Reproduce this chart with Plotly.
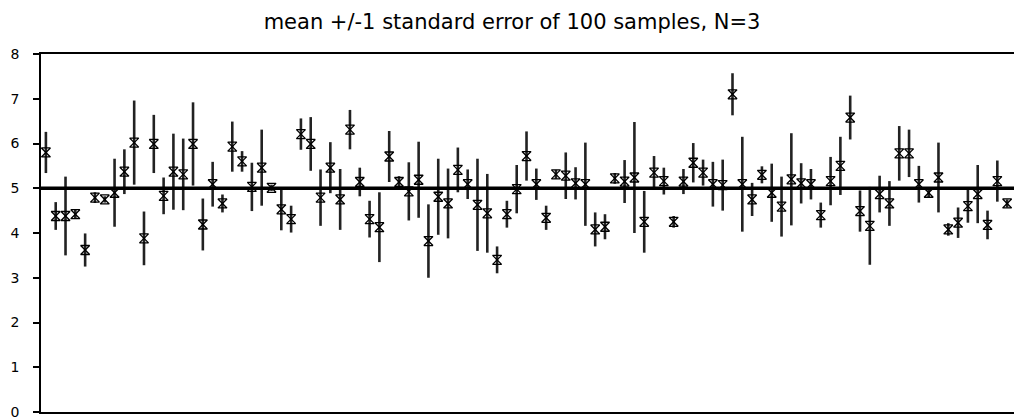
import plotly.graph_objects as go

# sample number 1..100 and the mean / standard error
samples = list(range(1, 101))
means = [5.80, 4.38, 4.38, 4.42, 3.62, 4.79, 4.75, 4.90, 5.37, 6.02,
         3.88, 5.99, 4.83, 5.37, 5.31, 5.99, 4.19, 5.09, 4.66, 5.93,
         5.60, 5.03, 5.46, 5.01, 4.53, 4.31, 6.21, 5.99, 4.79, 5.46,
         4.75, 6.31, 5.14, 4.31, 4.13, 5.71, 5.14, 4.93, 5.19, 3.82,
         4.81, 4.66, 5.41, 5.09, 4.63, 4.44, 3.40, 4.42, 4.98, 5.72,
         5.09, 4.34, 5.31, 5.28, 5.11, 5.09, 4.08, 4.14, 5.22, 5.15,
         5.24, 4.25, 5.35, 5.16, 4.25, 5.15, 5.57, 5.35, 5.09, 5.07,
         7.10, 5.09, 4.75, 5.30, 4.90, 4.59, 5.20, 5.11, 5.09, 4.40,
         5.16, 5.50, 6.58, 4.49, 4.16, 4.87, 4.66, 5.78, 5.78, 5.09,
         4.90, 5.24, 4.08, 4.23, 4.60, 4.87, 4.18, 5.16, 4.66, 4.90]
se = [0.46, 0.31, 0.88, 0.10, 0.37, 0.12, 0.07, 0.76, 0.50, 0.94,
      0.60, 0.65, 0.41, 0.85, 0.80, 0.93, 0.58, 0.50, 0.20, 0.56,
      0.23, 0.54, 0.85, 0.07, 0.47, 0.30, 0.35, 0.60, 0.63, 0.57,
      0.68, 0.44, 0.32, 0.41, 0.78, 0.57, 0.13, 0.65, 0.85, 0.82,
      0.85, 0.78, 0.50, 0.33, 1.03, 0.88, 0.30, 0.30, 0.54, 0.55,
      0.35, 0.27, 0.10, 0.52, 0.36, 0.93, 0.38, 0.28, 0.12, 0.48,
      1.24, 0.69, 0.37, 0.30, 0.13, 0.28, 0.44, 0.29, 0.50, 0.57,
      0.47, 1.06, 0.37, 0.19, 0.65, 0.67, 1.03, 0.45, 0.34, 0.28,
      0.54, 0.65, 0.49, 0.46, 0.87, 0.41, 0.50, 0.61, 0.53, 0.41,
      0.10, 0.78, 0.14, 0.34, 0.37, 0.65, 0.32, 0.46, 0.09, 0.30]
true_mean = 5

fig = go.Figure()
fig.add_trace(go.Scatter(
    x=samples, y=means, mode="markers",
    marker=dict(symbol="hourglass-open", size=9, color="black",
                line=dict(width=1.3, color="black")),
    error_y=dict(type="data", array=se, visible=True,
                 color="#222222", thickness=2.6, width=0),
    cliponaxis=False, showlegend=False,
))

fig.add_shape(type="line", xref="paper", x0=0, x1=1, y0=true_mean, y1=true_mean,
              line=dict(color="black", width=3.5))

fig.update_layout(
    width=1014, height=420,
    margin=dict(l=41, r=0, t=54, b=8, autoexpand=False),
    plot_bgcolor="white", paper_bgcolor="white",
    font=dict(family="DejaVu Sans", size=14, color="black"),
    title=dict(text="mean +/-1 standard error of 100 samples, N=3",
               x=0.505, xanchor="center", y=0.948, yanchor="middle",
               font=dict(size=21)),
)
fig.update_xaxes(range=[0.5, 99.7], showgrid=False, zeroline=False,
                 showticklabels=False, ticks="", automargin=False,
                 showline=True, mirror=True, linecolor="black", linewidth=1.5)
fig.update_yaxes(range=[0, 8], dtick=1, showgrid=False, zeroline=False,
                 ticks="outside", ticklen=6, tickwidth=1.5, tickcolor="black",
                 ticklabelstandoff=11, automargin=False,
                 showline=True, linecolor="black", linewidth=1.5)

# drop the browser's default body margin so the figure sits at the window corner
fig.write_html("out.html", config={"displayModeBar": False},
               post_script="document.body.style.margin='0px';")
